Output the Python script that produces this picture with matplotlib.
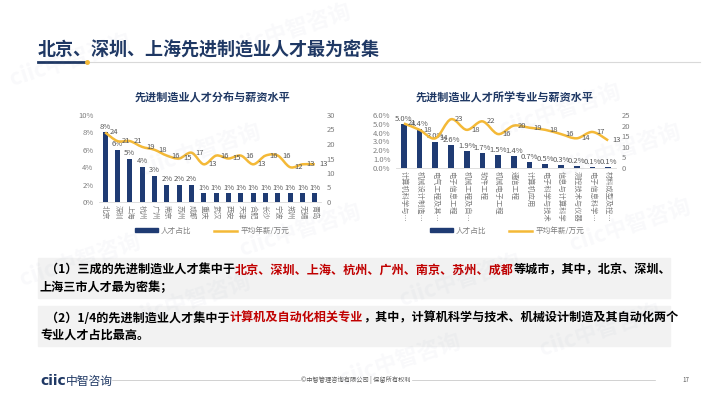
import numpy as np
import matplotlib
matplotlib.use("Agg")
import matplotlib.pyplot as plt
from matplotlib.path import Path
from matplotlib.patches import PathPatch, Rectangle
from matplotlib.lines import Line2D

plt.rcParams['font.family'] = ['Noto Sans CJK SC', 'DejaVu Sans']

# data
cities = ["北京", "深圳", "上海", "杭州", "广州", "南京", "苏州", "成都", "重庆",
          "武汉", "西安", "天津", "合肥", "长沙", "宁波", "郑州", "无锡", "青岛"]
city_share = [8, 6, 5, 4, 3, 2, 2, 2, 1, 1, 1, 1, 1, 1, 1, 1, 1, 1]
city_salary = [24, 21, 21, 19, 18, 16, 15, 17, 13, 16, 15, 16, 13, 16, 16, 12, 13, 13]

majors = ["计算机科学与…", "机械设计制造…", "电气工程及其…", "电子信息工程", "机械工程及自…",
          "软件工程", "机械电子工程", "通信工程", "计算机应用", "电子科学与技术",
          "信息与计算科学", "测控技术与仪器", "电子信息科学…", "材料成型及控…"]
major_share = [5.0, 4.4, 3.0, 2.6, 1.9, 1.7, 1.5, 1.4, 0.7, 0.5, 0.3, 0.2, 0.1, 0.1]
major_salary = [21, 18, 14, 23, 18, 22, 16, 20, 19, 18, 16, 14, 17, 13]

NAVY = "#1f3b73"
GOLD = "#f4b937"
GREY = "#7f7f7f"
TITLE = "#1f3864"
RED = "#c00000"

W, H = 710, 399
fig = plt.figure(figsize=(W / 100, H / 100), dpi=100)


def fx(x):
    return x / W


def fy(y):
    return 1 - y / H


def smooth_path(xs, ys):
    # catmull-rom style bezier through the data points
    pts = np.column_stack([xs, ys]).astype(float)
    verts = [pts[0]]
    codes = [Path.MOVETO]
    n = len(pts)
    for i in range(n - 1):
        p0 = pts[i - 1] if i > 0 else pts[i]
        p1 = pts[i]
        p2 = pts[i + 1]
        p3 = pts[i + 2] if i + 2 < n else pts[i + 1]
        c1 = p1 + (p2 - p0) / 6
        c2 = p2 - (p3 - p1) / 6
        verts += [c1, c2, p2]
        codes += [Path.CURVE4] * 3
    return Path(verts, codes)


def combo(rect, labels, share, salary, ymax, ystep, y2max, y2step, fmt, bw):
    ax = fig.add_axes(rect)
    ax.patch.set_alpha(0)
    x = np.arange(len(labels))
    bars = ax.bar(x, share, width=bw, color=NAVY, zorder=2)
    for xi, v in zip(x, share):
        ax.text(xi, v + ymax * 0.02, fmt.format(v), ha='center', va='bottom',
                fontsize=5.5, color="#595959", zorder=4)
    ax.set_xlim(-0.5, len(labels) - 0.5)
    ax.set_ylim(0, ymax)
    ax.set_yticks(np.arange(0, ymax + ystep / 2, ystep))
    if fmt == "{:.1f}%":
        ax.set_yticklabels(["{:.1f}%".format(t) for t in ax.get_yticks()])
    else:
        ax.set_yticklabels(["{:.0f}%".format(t) for t in ax.get_yticks()])
    ax.set_xticks(x)
    ax.set_xticklabels(labels, rotation=270, fontsize=5.2, color=GREY)
    ax.tick_params(axis='y', labelsize=5.5, labelcolor=GREY, length=0, pad=4)
    ax.tick_params(axis='x', length=0, pad=2)
    for s in ["top", "right", "left"]:
        ax.spines[s].set_visible(False)
    ax.spines["bottom"].set_color("#d9d9d9")
    ax.spines["bottom"].set_linewidth(0.6)

    ax2 = ax.twinx()
    ax2.set_ylim(0, y2max)
    ax2.set_yticks(np.arange(0, y2max + 1, y2step))
    ax2.tick_params(axis='y', labelsize=5.5, labelcolor=GREY, length=0, pad=4)
    for s in ax2.spines.values():
        s.set_visible(False)
    ax2.add_patch(PathPatch(smooth_path(x, salary), fill=False, edgecolor=GOLD,
                            lw=1.8, zorder=3))
    for xi, v in zip(x, salary):
        ax2.annotate(str(v), (xi, v), xytext=(3, 0), textcoords='offset points',
                     ha='left', va='center', fontsize=5.5, color="#595959")
    return ax, bars


# left chart
axL, barsL = combo([fx(99), fy(202), fx(222), (202 - 115) / H], cities, city_share,
                   city_salary, 10, 2, 30, 5, "{:.0f}%", 0.42)
# right chart
axR, barsR = combo([fx(396), fy(168), fx(220), (168 - 115) / H], majors, major_share,
                   major_salary, 6, 1, 25, 5, "{:.1f}%", 0.36)

fig.text(fx(212), fy(98), "先进制造业人才分布与薪资水平", ha='center', va='center',
         fontsize=8, fontweight='bold', color=TITLE)
fig.text(fx(505), fy(98), "先进制造业人才所学专业与薪资水平", ha='center', va='center',
         fontsize=8, fontweight='bold', color=TITLE)

for cx in [212, 507]:
    h = [Rectangle((0, 0), 1, 1, color=NAVY), Line2D([], [], color=GOLD, lw=1.8)]
    fig.legend(h, ["人才占比", "平均年薪/万元"], loc='center', ncol=2, frameon=False,
               bbox_to_anchor=(fx(cx), fy(231)), fontsize=5.5, labelcolor=GREY,
               handlelength=3, handleheight=0.5, columnspacing=3, handletextpad=0.4)

# header
fig.text(fx(38), fy(50), "北京、深圳、上海先进制造业人才最为密集", ha='left', va='center',
         fontsize=13, fontweight='bold', color=TITLE)
fig.add_artist(Line2D([fx(38), fx(700)], [fy(62), fy(62)], color="#d9d9d9", lw=0.8))
fig.add_artist(Line2D([fx(38), fx(84)], [fy(62), fy(62)], color=TITLE, lw=2))
fig.add_artist(Line2D([fx(87)], [fy(62)], marker='o', ms=2.5, color=GOLD, lw=0))

# text boxes
fig.add_artist(Rectangle((fx(38), fy(298)), fx(632), (298 - 258) / H, color="#f2f2f2", zorder=0))
fig.add_artist(Rectangle((fx(38), fy(346)), fx(632), (346 - 306) / H, color="#f2f2f2", zorder=0))

renderer = fig.canvas.get_renderer()


def seg_line(x, y, parts, size=8.7):
    for s, c in parts:
        t = fig.text(fx(x), fy(y), s, color=c, fontsize=size, fontweight='bold',
                     ha='left', va='center')
        x += t.get_window_extent(renderer).width


seg_line(46, 270, [("（1）三成的先进制造业人才集中于", "black"),
                   ("北京、深圳、上海、杭州、广州、南京、苏州、成都", RED),
                   ("等城市，其中，北京、深圳、", "black")])
seg_line(40, 288, [("上海三市人才最为密集；", "black")])
seg_line(46, 318, [("（2）1/4的先进制造业人才集中于", "black"),
                   ("计算机及自动化相关专业", RED),
                   ("，其中，计算机科学与技术、机械设计制造及其自动化两个", "black")])
seg_line(40, 335, [("专业人才占比最高。", "black")])

# footer
fig.text(fx(40), fy(381), "ciic", fontsize=10, fontweight='bold', color=TITLE,
         ha='left', va='center', family=['DejaVu Sans'])
fig.text(fx(66), fy(381), "中智咨询", fontsize=8.5, color=TITLE, ha='left', va='center')
fig.add_artist(Line2D([fx(112), fx(300)], [fy(380), fy(380)], color="#bfbfbf", lw=0.5))
fig.add_artist(Line2D([fx(412), fx(655)], [fy(380), fy(380)], color="#bfbfbf", lw=0.5))
fig.text(fx(356), fy(380), "©中智管理咨询有限公司 | 保留所有权利", fontsize=4.5,
         color="#595959", ha='center', va='center')
fig.text(fx(686), fy(380), "17", fontsize=4.5, color="#595959", ha='center', va='center')

# watermarks
for wx, wy in [(290, 30), (70, 60), (560, 110), (200, 150), (620, 150), (300, 230),
               (630, 225), (80, 260), (190, 300), (460, 280), (600, 330), (400, 360)]:
    fig.text(fx(wx), fy(wy), "ciic中智咨询", fontsize=16, fontweight='bold', color="#8090b0",
             alpha=0.05, rotation=18, ha='center', va='center', zorder=10)

fig.savefig("out.png", dpi=100)
